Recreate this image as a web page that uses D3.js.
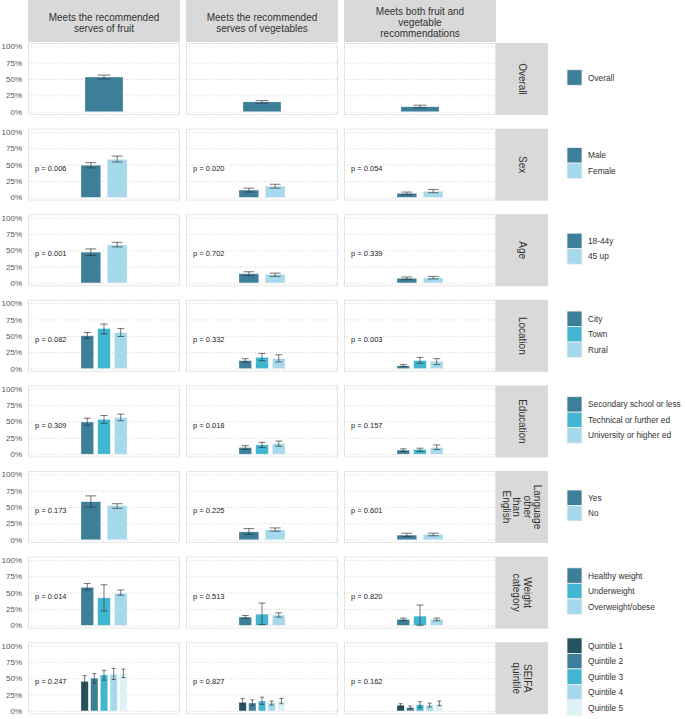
<!DOCTYPE html>
<html><head><meta charset="utf-8">
<script src="https://cdn.jsdelivr.net/npm/d3@7"></script>
<style>body{margin:0;background:#fff}svg{display:block;font-family:"Liberation Sans",Arial,sans-serif}</style>
</head><body><svg id="c" width="685" height="719"></svg>
<script>
// ---- data ----
const outcomeLabels = [
  ["Meets the recommended", "serves of fruit"],
  ["Meets the recommended", "serves of vegetables"],
  ["Meets both fruit and", "vegetable", "recommendations"]
];
const groupLabels = [
  ["Overall"], ["Sex"], ["Age"], ["Location"], ["Education"],
  ["Language", "other", "than", "English"], ["Weight", "category"], ["SEIFA", "quintile"]
];
const categories = [
  ["Overall"],
  ["Male", "Female"],
  ["18-44y", "45 up"],
  ["City", "Town", "Rural"],
  ["Secondary school or less", "Technical or further ed", "University or higher ed"],
  ["Yes", "No"],
  ["Healthy weight", "Underweight", "Overweight/obese"],
  ["Quintile 1", "Quintile 2", "Quintile 3", "Quintile 4", "Quintile 5"]
];
const fruitPct = [[53],[49,58],[47,58],[50,61,55],[49,53,56],[58,52],[58,42,49],[45,50,55,56,57]];
const fruitLo  = [[50],[45,54],[42,55],[46,53,49],[44,47,51],[50,48],[54,22,46],[37,42,47,48,51]];
const fruitHi  = [[56],[53,63],[52,62],[55,68,61],[55,59,61],[67,55],[64,62,54],[54,57,62,65,64]];
const vegPct = [[15],[11,17],[14,13],[12,17,15],[10,14,16],[12,15],[12.5,17,15.5],[13,12,15,12,15]];
const vegLo  = [[13],[8,14],[11,10],[10,12,10],[7,10,12],[8,13],[10.5,1,12.5],[9,8,10,9,11]];
const vegHi  = [[17],[14,20],[17,15],[15,23,21],[13,18,20],[17,18],[15,34,19],[19,17,21,15,19]];
const bothPct = [[7.5],[6,9],[7,8],[4,12,11],[6,7,10],[7,8],[9,14,9],[8.5,5,9.5,8.5,11]];
const bothLo  = [[6],[4,7],[5,6],[3,8,6],[4,4,7],[5,6],[7,0,7],[6,3.5,5,6,8]];
const bothHi  = [[10],[8,12],[9,10],[6,17,15],[8,9,14],[10,10],[11,31,11],[11,7.5,14,12,15]];
const fruitP = ["", "0.006", "0.001", "0.082", "0.309", "0.173", "0.014", "0.247"];
const vegP   = ["", "0.020", "0.702", "0.332", "0.018", "0.225", "0.513", "0.827"];
const bothP  = ["", "0.054", "0.339", "0.003", "0.157", "0.601", "0.820", "0.162"];
const yTicks = [0, 25, 50, 75, 100];
const C_DARK = "#3d7f99", C_MID = "#42b5d0", C_LIGHT = "#a6d9eb", C_Q1 = "#26525f", C_Q5 = "#ddf1f7";
const groupColors = [
  [C_DARK], [C_DARK, C_LIGHT], [C_DARK, C_LIGHT], [C_DARK, C_MID, C_LIGHT],
  [C_DARK, C_MID, C_LIGHT], [C_DARK, C_LIGHT], [C_DARK, C_MID, C_LIGHT],
  [C_Q1, C_DARK, C_MID, C_LIGHT, C_Q5]
];

// ---- layout ----
const svg = d3.select("#c");
const colX = [28, 186, 344], panelW = 152, panelH = 72;
const stripX = 496, stripW = 52, topStripH = 42;
const rowTop = i => 43 + i * 85.6;
const STRIP = "#d9d9d9";
const outcomes = [
  {pct: fruitPct, lo: fruitLo, hi: fruitHi, p: fruitP},
  {pct: vegPct, lo: vegLo, hi: vegHi, p: vegP},
  {pct: bothPct, lo: bothLo, hi: bothHi, p: bothP}
];

// top strips
outcomeLabels.forEach((lines, j) => {
  svg.append("rect").attr("x", colX[j]).attr("y", 0).attr("width", panelW).attr("height", topStripH).attr("fill", STRIP);
  const t = svg.append("text").attr("text-anchor", "middle").attr("font-size", 10).attr("fill", "#333");
  const n = lines.length;
  lines.forEach((l, k) => {
    t.append("tspan").attr("x", colX[j] + panelW / 2)
      .attr("y", topStripH / 2 + (k - (n - 1) / 2) * 11 + 5).text(l);
  });
});

groupLabels.forEach((glines, i) => {
  const top = rowTop(i);
  const y = d3.scaleLinear().domain([0, 100]).range([top + panelH - 3.3, top + 3.3]);
  const cats = categories[i];
  const color = d3.scaleOrdinal().domain(cats).range(groupColors[i]);

  outcomes.forEach((o, j) => {
    const x0 = colX[j];
    const g = svg.append("g");
    g.append("rect").attr("x", x0 + 0.5).attr("y", top + 0.5).attr("width", panelW - 1).attr("height", panelH - 1)
      .attr("fill", "#fff").attr("stroke", "#e6e6e6").attr("stroke-width", 1);
    // grid
    const grid = g.append("g").attr("transform", `translate(${x0},0)`)
      .call(d3.axisLeft(y).tickValues(yTicks).tickSize(-panelW).tickFormat(""));
    grid.select(".domain").remove();
    grid.selectAll(".tick line").attr("stroke", "#c8c8c8").attr("stroke-width", 0.8).attr("stroke-dasharray", "1,2");
    // y labels on first column
    if (j === 0) {
      const ax = svg.append("g").attr("transform", `translate(${x0},0)`)
        .call(d3.axisLeft(y).tickValues(yTicks).tickSize(0).tickPadding(6).tickFormat(d => d + "%"));
      ax.select(".domain").remove();
      ax.selectAll("text").attr("font-size", 8).attr("fill", "#555").attr("font-family", "Liberation Sans, Arial, sans-serif");
    }
    const cx = x0 + panelW / 2;
    const xb = d3.scaleBand().domain(cats).range(cats.length === 1 ? [cx - 19, cx + 19] : [cx - 23, cx + 23])
      .paddingInner(cats.length === 1 ? 0 : 0.25).paddingOuter(0);
    const data = cats.map((c, k) => ({c, v: o.pct[i][k], lo: o.lo[i][k], hi: o.hi[i][k]}));
    g.selectAll(".bar").data(data).enter().append("rect")
      .attr("x", d => xb(d.c)).attr("width", xb.bandwidth())
      .attr("y", d => y(d.v)).attr("height", d => y(0) - y(d.v))
      .attr("fill", d => color(d.c)).attr("stroke", "#ffffff").attr("stroke-opacity", 0.5).attr("stroke-width", 0.5);
    const capW = Math.min(xb.bandwidth() * 0.55, 13);
    const eb = g.selectAll(".eb").data(data).enter().append("g")
      .attr("stroke", "#333").attr("stroke-width", 0.8).attr("stroke-opacity", 0.85);
    eb.append("line").attr("x1", d => xb(d.c) + xb.bandwidth() / 2).attr("x2", d => xb(d.c) + xb.bandwidth() / 2)
      .attr("y1", d => y(d.lo)).attr("y2", d => y(d.hi));
    eb.append("line").attr("x1", d => xb(d.c) + xb.bandwidth() / 2 - capW / 2).attr("x2", d => xb(d.c) + xb.bandwidth() / 2 + capW / 2)
      .attr("y1", d => y(d.lo)).attr("y2", d => y(d.lo));
    eb.append("line").attr("x1", d => xb(d.c) + xb.bandwidth() / 2 - capW / 2).attr("x2", d => xb(d.c) + xb.bandwidth() / 2 + capW / 2)
      .attr("y1", d => y(d.hi)).attr("y2", d => y(d.hi));
    if (o.p[i]) {
      g.append("text").attr("x", x0 + 7).attr("y", y(45) + 3).attr("font-size", 7.5).attr("fill", "#222")
        .text("p = " + o.p[i]);
    }
  });

  // right strip
  svg.append("rect").attr("x", stripX).attr("y", top).attr("width", stripW).attr("height", panelH).attr("fill", STRIP);
  const cxs = stripX + stripW / 2, cys = top + panelH / 2;
  const t = svg.append("text").attr("transform", `translate(${cxs},${cys}) rotate(90)`)
    .attr("text-anchor", "middle").attr("font-size", 10).attr("fill", "#333");
  const n = glines.length;
  glines.forEach((l, k) => {
    t.append("tspan").attr("x", 0).attr("y", (k - (n - 1) / 2) * 10.5 + 3.5).text(l);
  });

  // legend
  const keyH = 15.5, keyW = 15;
  const ly0 = cys - 1.5 - cats.length * keyH / 2;
  const lg = svg.append("g");
  cats.forEach((c, k) => {
    lg.append("rect").attr("x", 567).attr("y", ly0 + k * keyH).attr("width", keyW).attr("height", keyH)
      .attr("fill", color(c)).attr("stroke", "#f2f2f2").attr("stroke-width", 0.8);
    lg.append("text").attr("x", 588).attr("y", ly0 + k * keyH + keyH / 2 + 3).attr("font-size", 8.3).attr("fill", "#333").text(c);
  });
});
</script></body></html>
